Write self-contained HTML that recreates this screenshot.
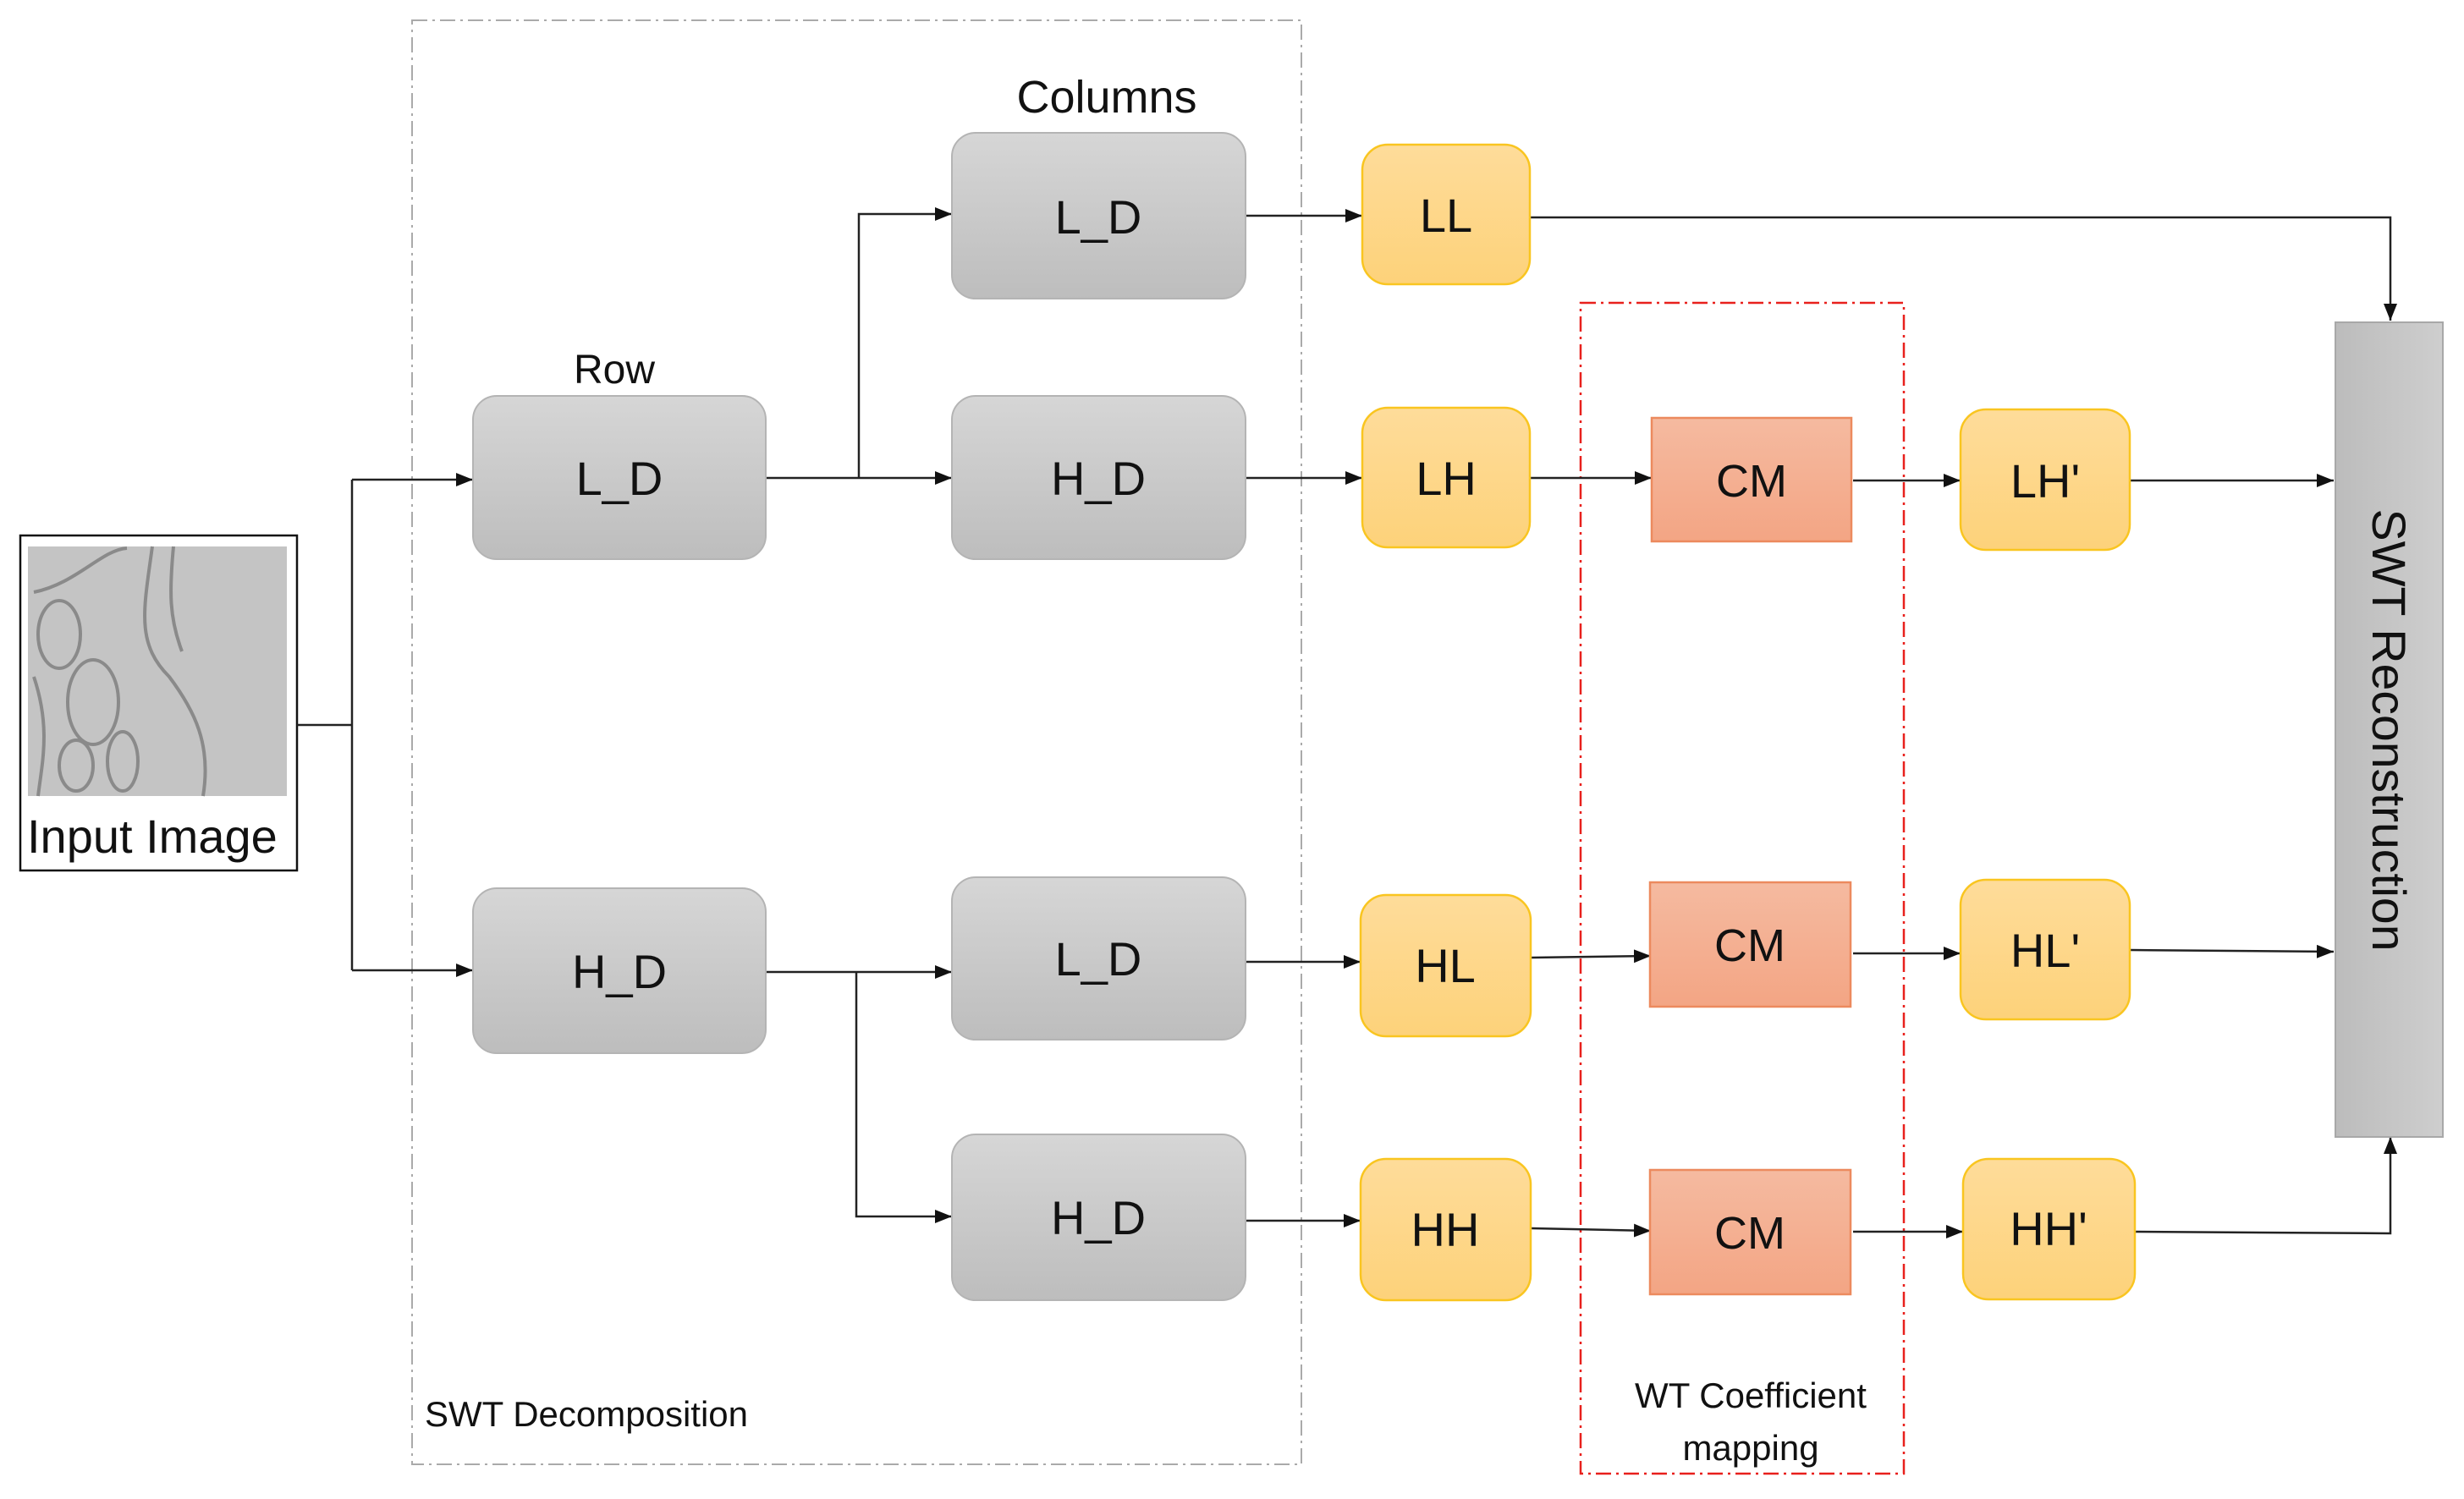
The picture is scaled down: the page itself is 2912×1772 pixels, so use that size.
<!DOCTYPE html>
<html><head><meta charset="utf-8"><style>
html,body{margin:0;padding:0;background:#fff;}
svg{display:block;}
text{font-family:"Liberation Sans",sans-serif;fill:#111;}
</style></head><body>
<svg width="2912" height="1772" viewBox="0 0 2912 1772" xmlns="http://www.w3.org/2000/svg">
<defs>
<linearGradient id="g" x1="0" y1="0" x2="0" y2="1"><stop offset="0" stop-color="#d6d6d6"/><stop offset="1" stop-color="#bdbdbd"/></linearGradient>
<linearGradient id="y" x1="0" y1="0" x2="0" y2="1"><stop offset="0" stop-color="#fedc9a"/><stop offset="1" stop-color="#fdd27a"/></linearGradient>
<linearGradient id="o" x1="0" y1="0" x2="0" y2="1"><stop offset="0" stop-color="#f5baa0"/><stop offset="1" stop-color="#f3a584"/></linearGradient>
<linearGradient id="r" x1="0" y1="0" x2="1" y2="0"><stop offset="0" stop-color="#bcbcbc"/><stop offset="1" stop-color="#cecece"/></linearGradient>
<marker id="a" markerWidth="20" markerHeight="16" refX="20" refY="8" orient="auto" markerUnits="userSpaceOnUse" viewBox="0 0 20 16"><path d="M0,0 L20,8 L0,16z" fill="#111"/></marker>
</defs>
<style>
.l{stroke:#222;stroke-width:2.5;fill:none;}
</style>
<rect x="487" y="24" width="1051" height="1707" fill="none" stroke="#aaa" stroke-width="2" stroke-dasharray="18,6,3,6"/>
<rect x="1868" y="358" width="382" height="1384" fill="none" stroke="#e8201c" stroke-width="2.5" stroke-dasharray="18,6,3,6"/>

<rect x="24" y="633" width="327" height="396" fill="#fff" stroke="#111" stroke-width="2.5"/>
<rect x="33" y="646" width="306" height="295" fill="#c4c4c4"/>
<g fill="none" stroke="#8a8a8a" stroke-width="4">
<path d="M40,700 C90,690 120,650 150,648"/>
<path d="M180,646 C170,720 160,760 200,800 C230,840 250,880 240,941"/>
<path d="M205,646 C200,700 200,730 215,770"/>
<ellipse cx="70" cy="750" rx="25" ry="40"/>
<ellipse cx="110" cy="830" rx="30" ry="50"/>
<ellipse cx="90" cy="905" rx="20" ry="30"/>
<ellipse cx="145" cy="900" rx="18" ry="35"/>
<path d="M40,800 C60,860 50,900 45,941"/>
</g>
<text x="32" y="1008" font-size="56">Input Image</text>

<text x="1308" y="133" font-size="54" text-anchor="middle">Columns</text>
<text x="726" y="453" font-size="48" text-anchor="middle">Row</text>
<text x="502" y="1686" font-size="42">SWT Decomposition</text>
<text x="2069" y="1664" font-size="42" text-anchor="middle">WT Coefficient</text>
<text x="2069" y="1726" font-size="42" text-anchor="middle">mapping</text>

<path class="l" d="M351,857 H416"/>
<path class="l" d="M416,567 V1147"/>
<path class="l" d="M416,567 H559" marker-end="url(#a)"/>
<path class="l" d="M416,1147 H559" marker-end="url(#a)"/>
<path class="l" d="M905,565 H1125" marker-end="url(#a)"/>
<path class="l" d="M1015,565 V253 H1125" marker-end="url(#a)"/>
<path class="l" d="M905,1149 H1125" marker-end="url(#a)"/>
<path class="l" d="M1012,1149 V1438 H1125" marker-end="url(#a)"/>
<path class="l" d="M1472,255 H1610" marker-end="url(#a)"/>
<path class="l" d="M1472,565 H1610" marker-end="url(#a)"/>
<path class="l" d="M1472,1137 H1608" marker-end="url(#a)"/>
<path class="l" d="M1472,1443 H1608" marker-end="url(#a)"/>
<path class="l" d="M1808,257 H2825 V379" marker-end="url(#a)"/>
<path class="l" d="M1808,565 H1952" marker-end="url(#a)"/>
<path class="l" d="M2190,568 H2317" marker-end="url(#a)"/>
<path class="l" d="M2517,568 H2758" marker-end="url(#a)"/>
<path class="l" d="M1810,1132 L1951,1130" marker-end="url(#a)"/>
<path class="l" d="M2190,1127 H2317" marker-end="url(#a)"/>
<path class="l" d="M2517,1123 L2758,1125" marker-end="url(#a)"/>
<path class="l" d="M1810,1452 L1951,1455" marker-end="url(#a)"/>
<path class="l" d="M2190,1456 H2320" marker-end="url(#a)"/>
<path class="l" d="M2523,1456 L2825,1458 V1344" marker-end="url(#a)"/>

<g fill="url(#g)" stroke="#b4b4b4" stroke-width="2">
<rect x="559" y="468" width="346" height="193" rx="28"/>
<rect x="559" y="1050" width="346" height="195" rx="28"/>
<rect x="1125" y="157" width="347" height="196" rx="28"/>
<rect x="1125" y="468" width="347" height="193" rx="28"/>
<rect x="1125" y="1037" width="347" height="192" rx="28"/>
<rect x="1125" y="1341" width="347" height="196" rx="28"/>
</g>
<g font-size="56" text-anchor="middle">
<text x="732" y="585">L_D</text>
<text x="732" y="1168">H_D</text>
<text x="1298" y="276">L_D</text>
<text x="1298" y="585">H_D</text>
<text x="1298" y="1153">L_D</text>
<text x="1298" y="1459">H_D</text>
</g>

<g fill="url(#y)" stroke="#f9c520" stroke-width="2.5">
<rect x="1610" y="171" width="198" height="165" rx="30"/>
<rect x="1610" y="482" width="198" height="165" rx="30"/>
<rect x="1608" y="1058" width="201" height="167" rx="30"/>
<rect x="1608" y="1370" width="201" height="167" rx="30"/>
<rect x="2317" y="484" width="200" height="166" rx="30"/>
<rect x="2317" y="1040" width="200" height="165" rx="30"/>
<rect x="2320" y="1370" width="203" height="166" rx="30"/>
</g>
<g font-size="56" text-anchor="middle">
<text x="1709" y="274">LL</text>
<text x="1709" y="585">LH</text>
<text x="1708" y="1161">HL</text>
<text x="1708" y="1473">HH</text>
<text x="2417" y="588">LH'</text>
<text x="2417" y="1143">HL'</text>
<text x="2421" y="1472">HH'</text>
</g>

<g fill="url(#o)" stroke="#ec8a5e" stroke-width="2.5">
<rect x="1952" y="494" width="236" height="146"/>
<rect x="1950" y="1043" width="237" height="147"/>
<rect x="1950" y="1383" width="237" height="147"/>
</g>
<g font-size="54" text-anchor="middle">
<text x="2070" y="587">CM</text>
<text x="2068" y="1136">CM</text>
<text x="2068" y="1476">CM</text>
</g>

<rect x="2760" y="381" width="127" height="963" fill="url(#r)" stroke="#a8a8a8" stroke-width="2"/>
<text transform="translate(2804,863) rotate(90)" font-size="56" text-anchor="middle" textLength="523" lengthAdjust="spacingAndGlyphs">SWT Reconstruction</text>
</svg>
</body></html>
